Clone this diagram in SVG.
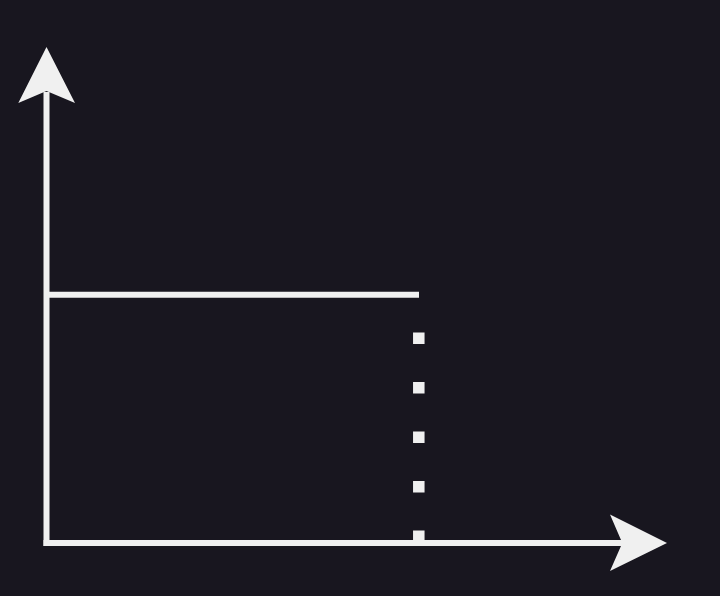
<svg xmlns="http://www.w3.org/2000/svg" width="720" height="596" viewBox="0 0 720 596">
  <style>
    .ln { stroke: #f0f0f0; stroke-width: 6; fill: none; }
    .hd { fill: #f0f0f0; }
  </style>
  <rect x="0" y="0" width="720" height="596" fill="#18161f"/>
  <g id="y-axis">
    <line class="ln" x1="46.5" y1="546" x2="46.5" y2="92"/>
    <polygon class="hd" points="46.5,47 75,103 46.5,91 18.3,103"/>
  </g>
  <g id="x-axis">
    <line class="ln" x1="43.5" y1="543" x2="623" y2="543"/>
    <polygon class="hd" points="667,543 610,571 622.3,543 610,514.5"/>
  </g>
  <g id="level-line">
    <line class="ln" x1="49" y1="294.7" x2="419" y2="294.7"/>
  </g>
  <g id="drop-line">
    <line stroke="#f0f0f0" stroke-width="11.5" x1="418.8" y1="332.5" x2="418.8" y2="543" stroke-dasharray="11.5 38"/>
  </g>
</svg>
